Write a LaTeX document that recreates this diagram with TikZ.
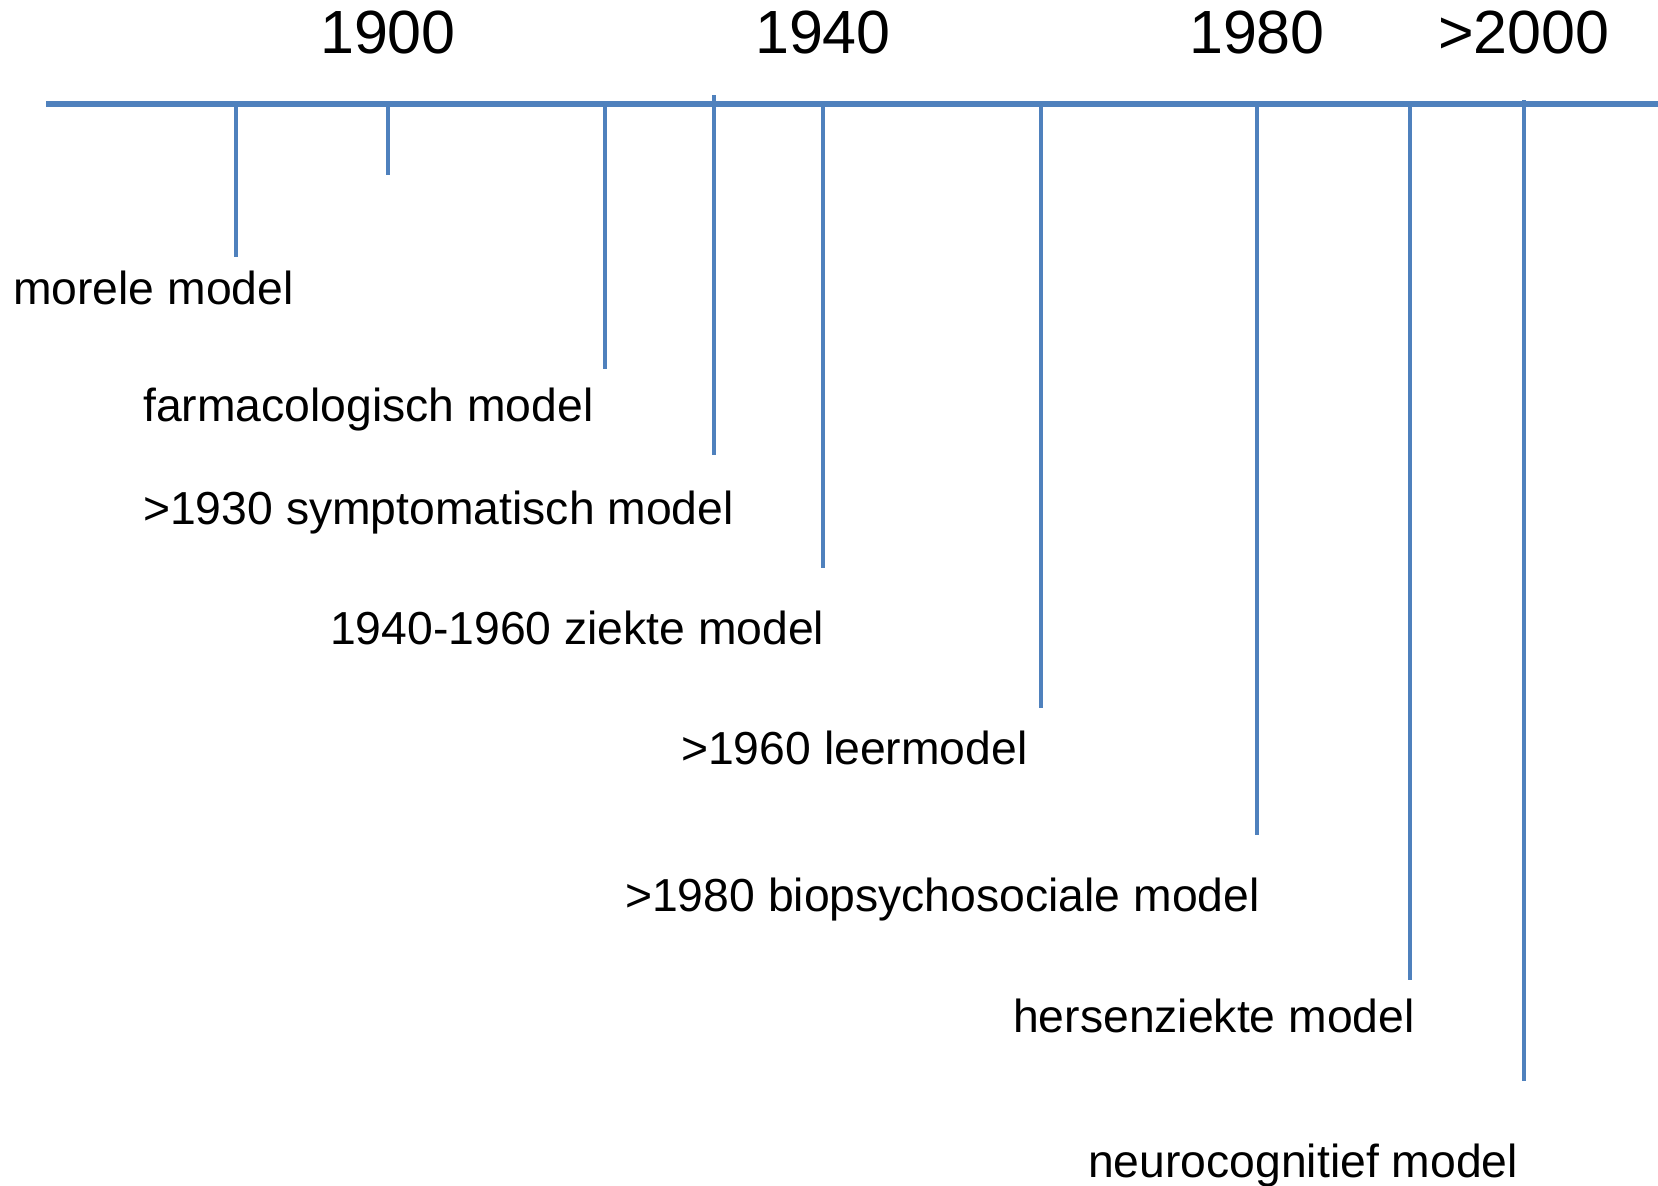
\documentclass[tikz,border=0pt]{standalone}
\usepackage{fontspec}
\setmainfont{Liberation Sans}
\definecolor{axisblue}{HTML}{4F81BD}
\begin{document}
\begin{tikzpicture}[x=1pt,y=-1pt,
  axisline/.style={draw=axisblue,line width=5.5pt},
  tickline/.style={draw=axisblue,line width=4.5pt},
  yearlabel/.style={anchor=base,inner sep=0pt,font=\fontsize{61}{70}\selectfont},
  modellabel/.style={anchor=base west,inner sep=0pt,font=\fontsize{46.3}{52}\selectfont}]
\useasboundingbox (0,0) rectangle (1658,1186);
% axis
\coordinate (axL) at (46,104);
\coordinate (axR) at (1658,104);
\draw[axisline] (axL) -- (axR);
% ticks
\coordinate (t1a) at (236,104);  \coordinate (t1b) at (236,257);
\coordinate (t2a) at (388,104);  \coordinate (t2b) at (388,175);
\coordinate (t3a) at (605,104);  \coordinate (t3b) at (605,369);
\coordinate (t4a) at (714,95);   \coordinate (t4b) at (714,455);
\coordinate (t5a) at (823,104);  \coordinate (t5b) at (823,568);
\coordinate (t6a) at (1041,104); \coordinate (t6b) at (1041,708);
\coordinate (t7a) at (1257,104); \coordinate (t7b) at (1257,835);
\coordinate (t8a) at (1410,104); \coordinate (t8b) at (1410,980);
\coordinate (t9a) at (1524,100); \coordinate (t9b) at (1524,1081);
\foreach \i in {1,...,9}{\draw[tickline] (t\i a) -- (t\i b);}
% year labels
\node[yearlabel] (y1900) at (388,53) {1900};
\node[yearlabel] (y1940) at (823,53) {1940};
\node[yearlabel] (y1980) at (1257,53) {1980};
\node[yearlabel] (y2000) at (1524,53) {>2000};
% model labels
\node[modellabel] (m1) at (13,304) {morele model};
\node[modellabel] (m2) at (143,421) {farmacologisch model};
\node[modellabel] (m3) at (143,524) {>1930 symptomatisch model};
\node[modellabel] (m4) at (330,644) {1940-1960 ziekte model};
\node[modellabel] (m5) at (681,764) {>1960 leermodel};
\node[modellabel] (m6) at (625,911) {>1980 biopsychosociale model};
\node[modellabel] (m7) at (1013,1032) {hersenziekte model};
\node[modellabel] (m8) at (1088,1177) {neurocognitief model};
\end{tikzpicture}
\end{document}
